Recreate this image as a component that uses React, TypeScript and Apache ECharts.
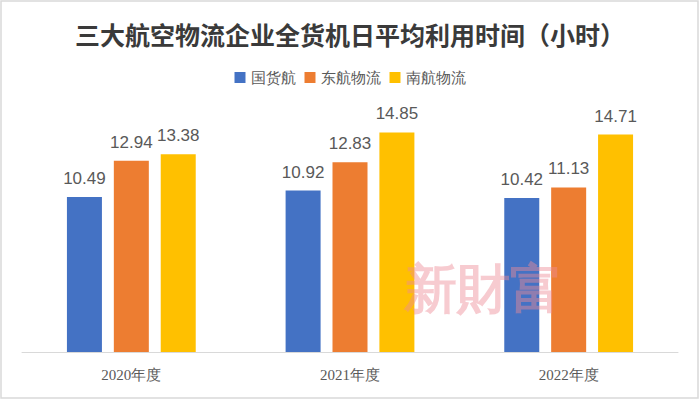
import React, { useEffect, useRef } from "react";
import * as echarts from "echarts";

const categories = ["2020年度", "2021年度", "2022年度"];
const seriesNames = ["国货航", "东航物流", "南航物流"];
const cargoAir = [10.49, 10.92, 10.42];
const easternLogistics = [12.94, 12.83, 11.13];
const southernLogistics = [13.38, 14.85, 14.71];
const colors = ["#4472C4", "#ED7D31", "#FFC000"];

export default function App() {
  const ref = useRef<HTMLDivElement>(null);
  useEffect(() => {
    if (!ref.current) return;
    const chart = echarts.init(ref.current, null, { renderer: "svg" });
    const dataSets = [cargoAir, easternLogistics, southernLogistics];
    chart.setOption({
      animation: false,
      backgroundColor: "#ffffff",
      color: colors,
      title: {
        text: "三大航空物流企业全货机日平均利用时间（小时）",
        left: "center",
        top: 16,
        textStyle: {
          fontFamily: "Noto Sans CJK SC",
          fontSize: 25,
          fontWeight: "bold",
          color: "#3a3a3a",
        },
      },
      legend: {
        top: 65,
        left: "center",
        itemWidth: 11,
        itemHeight: 11,
        itemGap: 9,
        icon: "rect",
        textStyle: {
          fontFamily: "serif",
          fontSize: 15,
          color: "#595959",
        },
        data: seriesNames,
      },
      grid: { left: 22, right: 22, top: 115.5, bottom: 48, containLabel: false },
      xAxis: {
        type: "category",
        data: categories,
        axisLine: { lineStyle: { color: "#d9d9d9", width: 1 } },
        axisTick: { show: false },
        axisLabel: {
          fontFamily: "serif",
          fontSize: 15,
          color: "#595959",
          margin: 15,
        },
      },
      yAxis: {
        type: "value",
        min: 0,
        max: 16,
        show: false,
        splitLine: { show: false },
      },
      graphic: [
        {
          type: "rect",
          shape: { x: 1, y: 1, width: 697, height: 397 },
          style: { fill: "none", stroke: "#d9d9d9", lineWidth: 1.5 },
          z: 100,
        },
        {
          type: "text",
          left: 404,
          top: 262,
          z: 100,
          style: {
            text: "新財富",
            fontFamily: "serif",
            fontSize: 53,
            fontWeight: "bold",
            fill: "rgba(238,140,150,0.45)",
          },
        },
      ],
      series: seriesNames.map((name, i) => ({
        name,
        type: "bar",
        data: dataSets[i],
        barWidth: 35,
        barGap: "34%",
        label: {
          show: true,
          position: "top",
          distance: 10,
          fontFamily: "Liberation Sans",
          fontSize: 17,
          color: "#595959",
          formatter: (p: any) => p.value.toFixed(2),
        },
      })),
    });
    return () => chart.dispose();
  }, []);
  return (
    <div
      ref={ref}
      style={{ position: "fixed", left: 0, top: 0, width: 700, height: 400 }}
    />
  );
}
